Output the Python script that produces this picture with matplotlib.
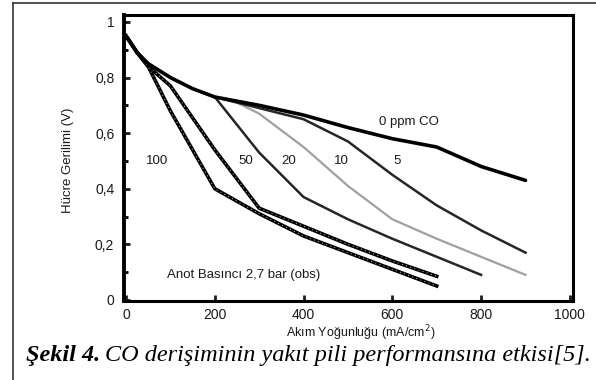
import numpy as np
import matplotlib
matplotlib.use("Agg")
from matplotlib import pyplot as plt
from matplotlib.ticker import MultipleLocator, FuncFormatter

# current density (mA/cm2) and cell voltage (V)
x_0 = [0, 25, 50, 100, 150, 200, 300, 400, 500, 600, 700, 800, 900]
v_0 = [0.95, 0.89, 0.85, 0.80, 0.76, 0.73, 0.70, 0.665, 0.62, 0.58, 0.55, 0.48, 0.43]

x_5 = [0, 25, 50, 100, 150, 200, 300, 400, 500, 600, 700, 800, 900]
v_5 = [0.95, 0.89, 0.85, 0.80, 0.76, 0.73, 0.69, 0.65, 0.57, 0.45, 0.34, 0.25, 0.17]

x_10 = [0, 25, 50, 100, 150, 200, 250, 300, 400, 500, 600, 700, 800, 900]
v_10 = [0.95, 0.89, 0.85, 0.80, 0.76, 0.73, 0.71, 0.67, 0.55, 0.41, 0.29, 0.22, 0.155, 0.09]

x_20 = [0, 25, 50, 100, 150, 200, 300, 400, 500, 600, 700, 800]
v_20 = [0.95, 0.89, 0.85, 0.80, 0.76, 0.73, 0.53, 0.37, 0.29, 0.22, 0.155, 0.09]

x_50 = [0, 25, 50, 100, 200, 300, 400, 500, 600, 700]
v_50 = [0.95, 0.89, 0.84, 0.77, 0.54, 0.33, 0.265, 0.20, 0.14, 0.085]

x_100 = [0, 25, 50, 100, 200, 300, 400, 500, 600, 700]
v_100 = [0.95, 0.89, 0.84, 0.68, 0.40, 0.31, 0.23, 0.17, 0.11, 0.05]

curve_labels = ["0 ppm CO", "5", "10", "20", "50", "100"]
label_x = [637, 610, 486, 367, 270, 70]
label_y = [0.64, 0.50, 0.50, 0.50, 0.50, 0.50]

x_ticks = [0, 200, 400, 600, 800, 1000]
y_ticks = [0, 0.2, 0.4, 0.6, 0.8, 1.0]

sans = ["Liberation Sans", "DejaVu Sans"]
serif = ["Liberation Serif", "DejaVu Serif"]

fig = plt.figure(figsize=(5.96, 3.80), dpi=100)
ax = fig.add_axes([124/596, 1-301/380, 449/596, 286/380])

ax.plot(x_0, v_0, color="black", lw=2.6, solid_capstyle="round", zorder=6)
ax.plot(x_5, v_5, color="#262626", lw=1.8, zorder=5)
ax.plot(x_10, v_10, color="#a0a0a0", lw=1.6, zorder=4)
ax.plot(x_20, v_20, color="#262626", lw=1.8, zorder=4)
for xs, vs in [(x_50, v_50), (x_100, v_100)]:
    ax.plot(xs, vs, color="black", lw=2.6, zorder=3)
    ax.plot(xs, vs, color="white", lw=0.7, ls=(0, (1, 3.5)), alpha=0.8, zorder=3)

for t, lx, ly in zip(curve_labels, label_x, label_y):
    ax.text(lx, ly, t, ha="center", va="center", fontsize=9.5, family=sans, color="#1a1a1a")
ax.text(264, 0.09, "Anot Basıncı 2,7 bar (obs)", ha="center", va="center",
        fontsize=9.5, family=sans, color="#1a1a1a")

ax.set_xlim(-4.5, 1007)
ax.set_ylim(-0.004, 1.025)
ax.set_xticks(x_ticks)
ax.set_yticks(y_ticks)
ax.yaxis.set_minor_locator(MultipleLocator(0.1))
ax.yaxis.set_major_formatter(FuncFormatter(lambda v, p: ("%g" % round(v, 1)).replace(".", ",")))
ax.tick_params(direction="in", length=4, width=2, pad=7, labelsize=10, colors="#1a1a1a")
ax.tick_params(axis="x", pad=5)
ax.tick_params(which="minor", direction="in", length=3, width=2)
for lab in ax.get_xticklabels() + ax.get_yticklabels():
    lab.set_family(sans)
for s in ax.spines.values():
    s.set_linewidth(2.2)
ax.spines["left"].set_linewidth(2.8)

fig.text(68/596, 1-160/380, "Hücre Gerilimi (V)", rotation=90, ha="center", va="center",
         fontsize=9.5, family=sans, color="#1a1a1a")
fig.text(361/596, 1-333/380, "Akım Yoğunluğu (mA/cm$^2$)", ha="center", va="center",
         fontsize=9, family=sans, color="#1a1a1a")

# caption: bold part then the rest, placed right after it
r = fig.canvas.get_renderer()
t1 = fig.text(26/596, 1-361/380, "Şekil 4.", fontsize=17.5, family=serif,
              style="italic", weight="bold", va="baseline")
bb = t1.get_window_extent(r)
fig.text(bb.x1/fig.bbox.width + 5/596, 1-361/380,
         "CO derişiminin yakıt pili performansına etkisi[5].",
         fontsize=17.5, family=serif, style="italic", va="baseline")

# frame of the figure box
fig.add_artist(plt.Line2D([13/596, 13/596], [0, 1-3/380], color="#333333", lw=1.2))
fig.add_artist(plt.Line2D([13/596, 1], [1-3/380, 1-3/380], color="#333333", lw=1.2))

fig.savefig("out.png", dpi=100)
